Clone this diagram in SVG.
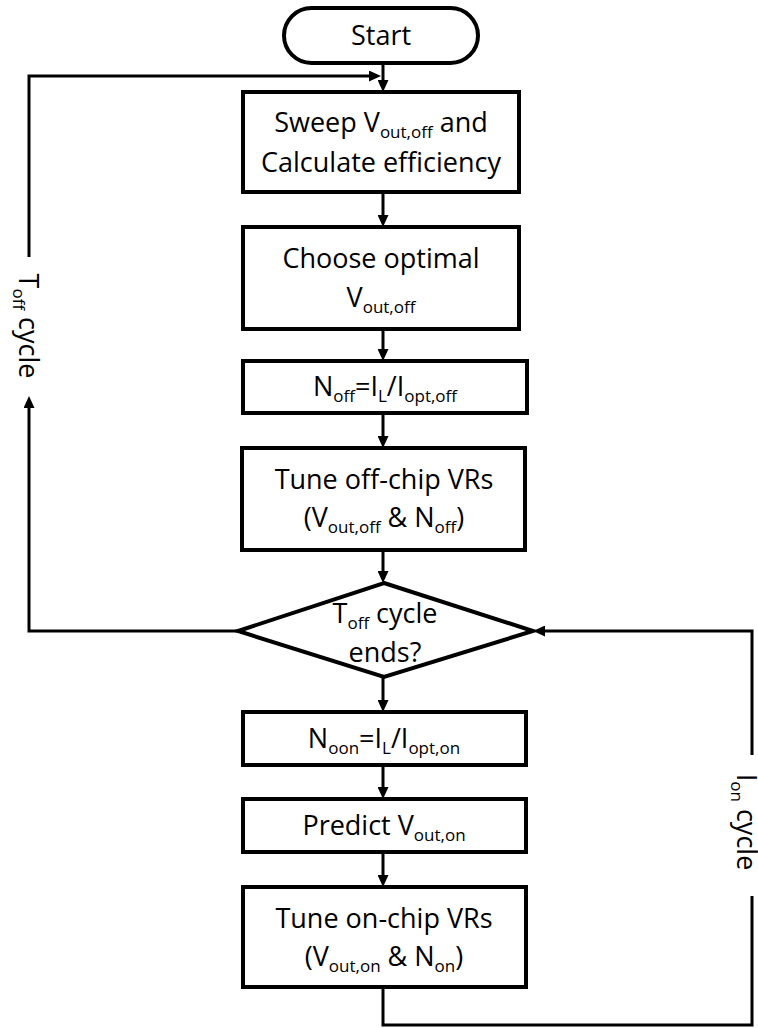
<svg xmlns="http://www.w3.org/2000/svg" width="758" height="1028" viewBox="0 0 758 1028">
<style>
.n{fill:#fff;stroke:#000;stroke-width:4}
.c{fill:none;stroke:#000;stroke-width:3}
.t{font-family:"Open Sans","Liberation Sans",sans-serif;font-size:27px;fill:#000;text-anchor:middle}
.s{font-size:17px}
</style>
<defs>
<marker id="ah" markerUnits="userSpaceOnUse" markerWidth="12" markerHeight="11" refX="6" refY="5.5" orient="auto">
<path d="M0,0 L12,5.5 L0,11 z" fill="#000"/>
</marker>
</defs>
<rect width="758" height="1028" fill="#fff"/>
<g id="connectors">
<path class="c" d="M383,63 V86" marker-end="url(#ah)"/>
<path class="c" d="M383,192 V221" marker-end="url(#ah)"/>
<path class="c" d="M383,329 V355" marker-end="url(#ah)"/>
<path class="c" d="M383,413 V442" marker-end="url(#ah)"/>
<path class="c" d="M383,550 V577" marker-end="url(#ah)"/>
<path class="c" d="M383,677 V706" marker-end="url(#ah)"/>
<path class="c" d="M383,765 V793" marker-end="url(#ah)"/>
<path class="c" d="M383,852 V881" marker-end="url(#ah)"/>
<path class="c" d="M238,631 H29 V402" marker-end="url(#ah)"/>
<path class="c" d="M29,257 V76 H375" marker-end="url(#ah)"/>
<path class="c" d="M383,987 V1025 H752 V896"/>
<path class="c" d="M752,755 V631 H539" marker-end="url(#ah)"/>
<text class="t" transform="translate(19,326) rotate(90)">T<tspan class="s" dy="6">off</tspan><tspan dy="-6"> cycle</tspan></text>
<text class="t" transform="translate(737,822) rotate(90)">I<tspan class="s" dy="6">on</tspan><tspan dy="-6"> cycle</tspan></text>
</g>
<g id="start">
<rect class="n" x="284" y="8" width="194" height="55" rx="27.5"/>
<text class="t" x="381" y="45">Start</text>
</g>
<g id="sweep">
<rect class="n" x="243" y="92" width="276" height="100"/>
<text class="t" x="381" y="132">Sweep V<tspan class="s" dy="6">out,off</tspan><tspan dy="-6"> and</tspan></text>
<text class="t" x="381" y="172">Calculate efficiency</text>
</g>
<g id="choose">
<rect class="n" x="243" y="227" width="276" height="102"/>
<text class="t" x="381" y="268">Choose optimal</text>
<text class="t" x="381" y="307">V<tspan class="s" dy="6">out,off</tspan></text>
</g>
<g id="noff">
<rect class="n" x="243" y="361" width="284" height="52"/>
<text class="t" x="385" y="396">N<tspan class="s" dy="6">off</tspan><tspan dy="-6">=I</tspan><tspan class="s" dy="6">L</tspan><tspan dy="-6">/I</tspan><tspan class="s" dy="6">opt,off</tspan></text>
</g>
<g id="tuneoff">
<rect class="n" x="242" y="448" width="283" height="102"/>
<text class="t" x="384" y="489">Tune off-chip VRs</text>
<text class="t" x="384" y="527">(V<tspan class="s" dy="6">out,off</tspan><tspan dy="-6"> &amp; N</tspan><tspan class="s" dy="6">off</tspan><tspan dy="-6">)</tspan></text>
</g>
<g id="decision">
<polygon class="n" points="384,583 533,631 384,677 238,631"/>
<text class="t" x="385" y="623">T<tspan class="s" dy="6">off</tspan><tspan dy="-6"> cycle</tspan></text>
<text class="t" x="385" y="662">ends?</text>
</g>
<g id="noon">
<rect class="n" x="243" y="712" width="283" height="53"/>
<text class="t" x="384" y="748">N<tspan class="s" dy="6">oon</tspan><tspan dy="-6">=I</tspan><tspan class="s" dy="6">L</tspan><tspan dy="-6">/I</tspan><tspan class="s" dy="6">opt,on</tspan></text>
</g>
<g id="predict">
<rect class="n" x="243" y="799" width="283" height="53"/>
<text class="t" x="384" y="835">Predict V<tspan class="s" dy="6">out,on</tspan></text>
</g>
<g id="tuneon">
<rect class="n" x="243" y="887" width="283" height="100"/>
<text class="t" x="384" y="928">Tune on-chip VRs</text>
<text class="t" x="384" y="966">(V<tspan class="s" dy="6">out,on</tspan><tspan dy="-6"> &amp; N</tspan><tspan class="s" dy="6">on</tspan><tspan dy="-6">)</tspan></text>
</g>
</svg>
